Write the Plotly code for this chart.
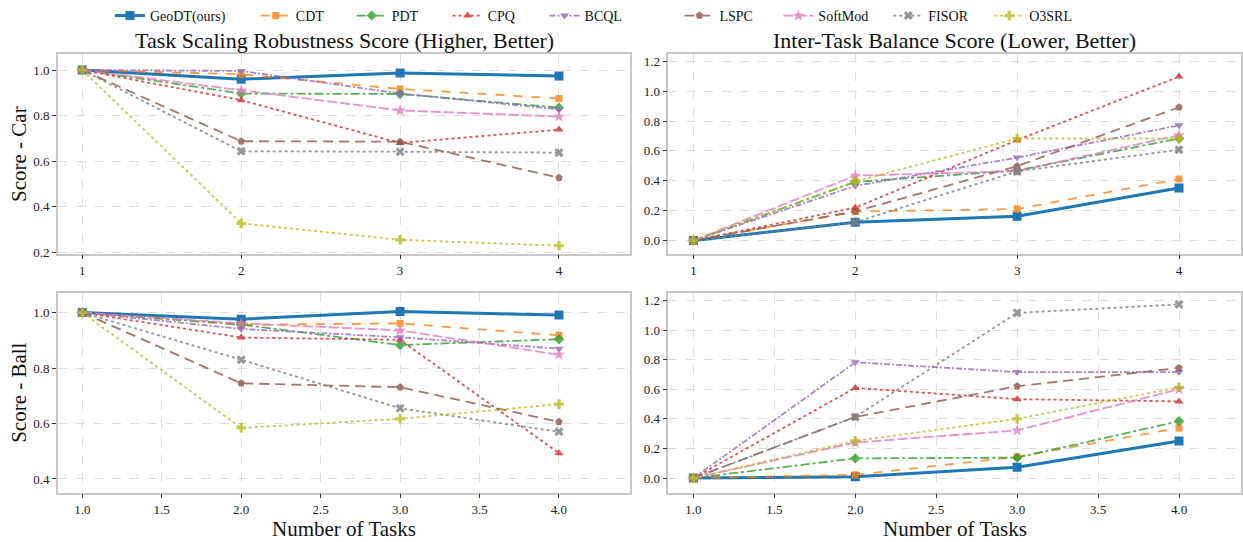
import plotly.graph_objects as go

tasks = [1, 2, 3, 4]
methods = ["GeoDT(ours)", "CDT", "PDT", "CPQ", "BCQL", "LSPC", "SoftMod", "FISOR", "O3SRL"]

# Task Scaling Robustness Score - Car
robust_car = {
    "GeoDT(ours)": [1.0, 0.960, 0.987, 0.974],
    "CDT": [1.0, 0.981, 0.917, 0.875],
    "PDT": [1.0, 0.897, 0.895, 0.835],
    "CPQ": [1.0, 0.868, 0.680, 0.739],
    "BCQL": [1.0, 0.996, 0.897, 0.828],
    "LSPC": [1.0, 0.688, 0.686, 0.528],
    "SoftMod": [1.0, 0.910, 0.823, 0.796],
    "FISOR": [1.0, 0.644, 0.642, 0.638],
    "O3SRL": [1.0, 0.328, 0.256, 0.230],
}
# Inter-Task Balance Score - Car
balance_car = {
    "GeoDT(ours)": [0.0, 0.123, 0.163, 0.352],
    "CDT": [0.0, 0.194, 0.211, 0.412],
    "PDT": [0.0, 0.392, 0.469, 0.683],
    "CPQ": [0.0, 0.220, 0.672, 1.097],
    "BCQL": [0.0, 0.366, 0.555, 0.771],
    "LSPC": [0.0, 0.194, 0.498, 0.892],
    "SoftMod": [0.0, 0.434, 0.465, 0.705],
    "FISOR": [0.0, 0.123, 0.463, 0.608],
    "O3SRL": [0.0, 0.396, 0.683, 0.683],
}
# Task Scaling Robustness Score - Ball
robust_ball = {
    "GeoDT(ours)": [1.0, 0.976, 1.004, 0.991],
    "CDT": [1.0, 0.956, 0.961, 0.918],
    "PDT": [1.0, 0.957, 0.883, 0.904],
    "CPQ": [1.0, 0.910, 0.902, 0.493],
    "BCQL": [1.0, 0.941, 0.911, 0.870],
    "LSPC": [1.0, 0.745, 0.731, 0.606],
    "SoftMod": [1.0, 0.961, 0.936, 0.848],
    "FISOR": [1.0, 0.830, 0.655, 0.570],
    "O3SRL": [1.0, 0.584, 0.617, 0.670],
}
# Inter-Task Balance Score - Ball
balance_ball = {
    "GeoDT(ours)": [0.0, 0.009, 0.073, 0.251],
    "CDT": [0.0, 0.022, 0.144, 0.338],
    "PDT": [0.0, 0.133, 0.138, 0.384],
    "CPQ": [0.0, 0.609, 0.533, 0.518],
    "BCQL": [0.0, 0.782, 0.716, 0.716],
    "LSPC": [0.0, 0.413, 0.620, 0.744],
    "SoftMod": [0.0, 0.240, 0.322, 0.600],
    "FISOR": [0.0, 0.413, 1.116, 1.173],
    "O3SRL": [0.0, 0.251, 0.400, 0.613],
}

styles = {
    "GeoDT(ours)": dict(color="#1f77b4", dash="solid", symbol="square", width=3, size=9, op=1.0),
    "CDT": dict(color="#ff7f0e", dash="dash", symbol="square", width=1.8, size=7, op=0.8),
    "PDT": dict(color="#2ca02c", dash="dashdot", symbol="diamond", width=1.8, size=8, op=0.8),
    "CPQ": dict(color="#d62728", dash="dot", symbol="triangle-up", width=1.8, size=8, op=0.8),
    "BCQL": dict(color="#9467bd", dash="6px,2px,2px,2px", symbol="triangle-down", width=1.8, size=8, op=0.8),
    "LSPC": dict(color="#8c564b", dash="10px,6px", symbol="pentagon", width=1.8, size=8, op=0.8),
    "SoftMod": dict(color="#e377c2", dash="10px,3px", symbol="star", width=1.8, size=9, op=0.8),
    "FISOR": dict(color="#7f7f7f", dash="dot", symbol="x", width=1.8, size=8, op=0.8),
    "O3SRL": dict(color="#bcbd22", dash="dot", symbol="cross", width=1.8, size=8, op=0.8),
}

W, H = 1243, 542
FONT = "Liberation Serif, Times New Roman, serif"

# legend text start positions (px)
legend_text_x = [153, 299, 395, 491, 588, 723, 822, 932, 1033]

fig = go.Figure()
panels = [(robust_car, "x", "y"), (balance_car, "x2", "y2"), (robust_ball, "x3", "y3"), (balance_ball, "x4", "y4")]
for pi, (data, xa, ya) in enumerate(panels):
    for mi, m in enumerate(methods):
        s = styles[m]
        fig.add_trace(go.Scatter(
            x=tasks, y=data[m], mode="lines+markers", name=m,
            xaxis=xa, yaxis=ya, opacity=s["op"],
            line=dict(color=s["color"], dash=s["dash"], width=s["width"]),
            marker=dict(symbol=s["symbol"], size=s["size"], color=s["color"]),
            showlegend=(pi == 0),
            legend=("legend" if mi == 0 else f"legend{mi+1}"),
        ))

def px_x(p):
    return p / W

def px_y(p):
    return 1 - p / H

dom_left = [px_x(58), px_x(631)]
dom_right = [px_x(669), px_x(1242)]
dom_top = [px_y(256), px_y(53.3)]
dom_bot = [px_y(498), px_y(296)]

axis_common = dict(
    showline=True, linecolor="#c8c8c8", linewidth=1.5, mirror=True,
    ticks="outside", ticklen=4, tickwidth=1, tickcolor="#333333",
    showgrid=True, gridcolor="#dddddd", griddash="dash", gridwidth=1,
    zeroline=False, tickfont=dict(family=FONT, size=13, color="#222222"),
)

layout = dict(
    width=W, height=H, margin=dict(l=0, r=0, t=0, b=0),
    paper_bgcolor="white", plot_bgcolor="white",
    font=dict(family=FONT, size=14, color="#111111"),
    xaxis=dict(domain=dom_left, anchor="y", range=[0.847, 4.45], dtick=1, tickformat="d", **axis_common),
    yaxis=dict(domain=dom_top, anchor="x", range=[0.195, 1.072], dtick=0.2, tickformat=".1f", **axis_common),
    xaxis2=dict(domain=dom_right, anchor="y2", range=[0.846, 4.383], dtick=1, tickformat="d", **axis_common),
    yaxis2=dict(domain=dom_top, anchor="x2", range=[-0.088, 1.251], dtick=0.2, tickformat=".1f", **axis_common),
    xaxis3=dict(domain=dom_left, anchor="y3", range=[0.847, 4.45], dtick=0.5, tickformat=".1f", **axis_common),
    yaxis3=dict(domain=dom_bot, anchor="x3", range=[0.351, 1.07], dtick=0.2, tickformat=".1f", **axis_common),
    xaxis4=dict(domain=dom_right, anchor="y4", range=[0.846, 4.383], dtick=0.5, tickformat=".1f", **axis_common),
    yaxis4=dict(domain=dom_bot, anchor="x4", range=[-0.098, 1.249], dtick=0.2, tickformat=".1f", **axis_common),
)
for i, tx in enumerate(legend_text_x):
    key = "legend" if i == 0 else f"legend{i+1}"
    layout[key] = dict(
        x=px_x(tx - 43), y=px_y(15), xanchor="left", yanchor="middle",
        orientation="h", bgcolor="rgba(0,0,0,0)", borderwidth=0,
        font=dict(family=FONT, size=14, color="#111111"),
    )
fig.update_layout(**layout)

ann = []
title_font = dict(family=FONT, size=22, color="#111111")
label_font = dict(family=FONT, size=21, color="#111111")
ann.append(dict(text="Task Scaling Robustness Score (Higher, Better)", x=px_x(344.5), y=px_y(40),
                xref="paper", yref="paper", showarrow=False, xanchor="center", yanchor="middle", font=title_font))
ann.append(dict(text="Inter-Task Balance Score (Lower, Better)", x=px_x(955.5), y=px_y(40),
                xref="paper", yref="paper", showarrow=False, xanchor="center", yanchor="middle", font=title_font))
ann.append(dict(text="Number of Tasks", x=px_x(344.5), y=px_y(535),
                xref="paper", yref="paper", showarrow=False, xanchor="center", yanchor="middle", font=label_font))
ann.append(dict(text="Number of Tasks", x=px_x(955.5), y=px_y(535),
                xref="paper", yref="paper", showarrow=False, xanchor="center", yanchor="middle", font=label_font))
ann.append(dict(text="Score - Car", x=px_x(19), y=px_y(155), textangle=-90,
                xref="paper", yref="paper", showarrow=False, xanchor="center", yanchor="middle", font=label_font))
ann.append(dict(text="Score - Ball", x=px_x(19), y=px_y(397), textangle=-90,
                xref="paper", yref="paper", showarrow=False, xanchor="center", yanchor="middle", font=label_font))
fig.update_layout(annotations=ann)

fig.write_html("out.html")
